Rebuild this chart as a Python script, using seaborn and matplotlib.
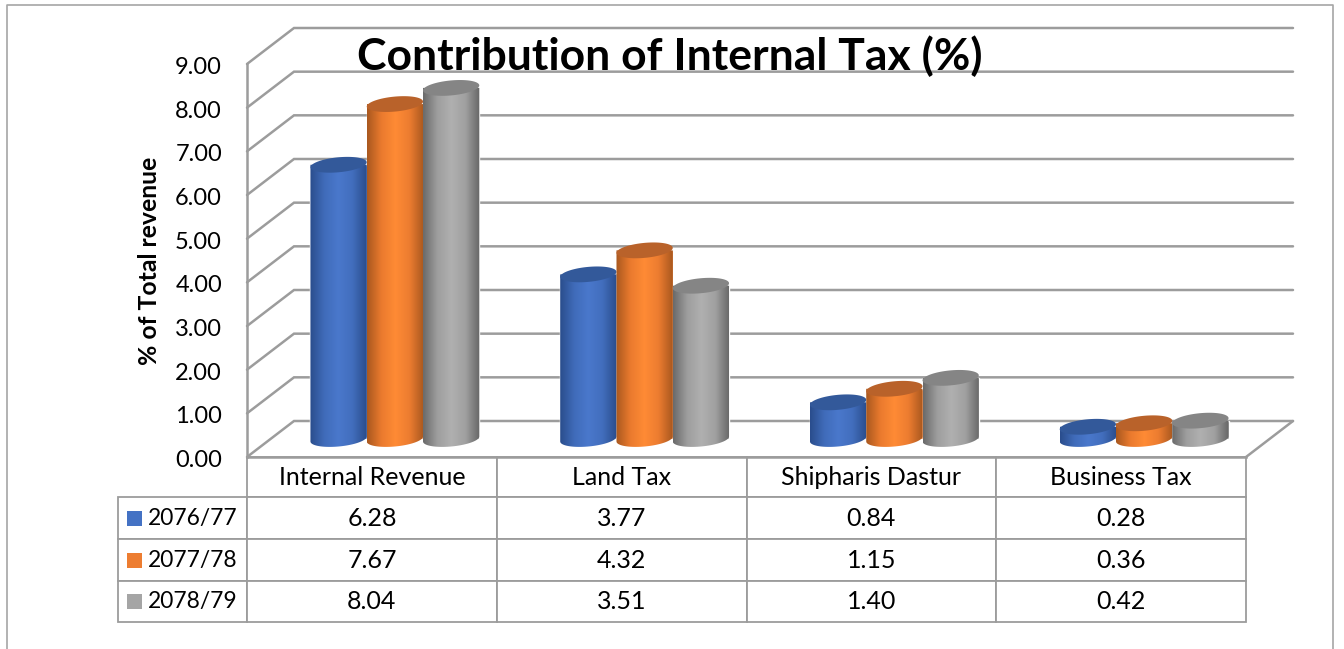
import numpy as np
import pandas as pd
import matplotlib
matplotlib.use("Agg")
import matplotlib.pyplot as plt
from matplotlib.colors import LinearSegmentedColormap
from matplotlib.lines import Line2D
from matplotlib.patches import Polygon, Rectangle
from matplotlib.transforms import ScaledTranslation
import seaborn as sns

categories = ["Internal Revenue", "Land Tax", "Shipharis Dastur", "Business Tax"]
years = ["2076/77", "2077/78", "2078/79"]
vals_7677 = [6.28, 3.77, 0.84, 0.28]
vals_7778 = [7.67, 4.32, 1.15, 0.36]
vals_7879 = [8.04, 3.51, 1.40, 0.42]
yticks = [0, 1, 2, 3, 4, 5, 6, 7, 8, 9]

key_colors = ["#4472c4", "#ed7d31", "#a5a5a5"]
top_colors = ["#33599a", "#b9622a", "#858585"]
side_colors = [["#2a4d8c", "#406cba", "#4a78cc", "#426ebd", "#2a4d8c"],
               ["#a9581f", "#ea7a2e", "#ff8b35", "#ec7c30", "#a9581f"],
               ["#6a6a6a", "#9e9e9e", "#b0b0b0", "#a0a0a0", "#666666"]]
GRID = "#9c9c9c"

W, H = 1344, 649
FONT = ["Lato", "DejaVu Sans"]


def px(x, y):
  return x / W, 1 - y / H


def axes_at(left, top, right, bottom):
  x0, y1 = px(left, top)
  x1, y0 = px(right, bottom)
  return fig.add_axes([x0, y0, x1 - x0, y1 - y0])


sns.set_style("white")
plt.rcParams['font.family'] = FONT
fig = plt.figure(figsize=(W / 100, H / 100), dpi=100)

# front plane of the 3d box
ax = axes_at(247, 64, 1246, 457)
ax.set_xlim(-0.5, 3.5)
ax.set_ylim(0, 9)
ax.patch.set_visible(False)
ax.set_xticks([])
ax.set_yticks(yticks)
ax.set_yticklabels(["%.2f" % v for v in yticks], fontsize=17)
ax.tick_params(axis='y', length=0, pad=18, labelcolor='black')
for lab in ax.get_yticklabels():
  lab.set_transform(lab.get_transform() + ScaledTranslation(0, -1.5 / 100, fig.dpi_scale_trans))
ax.set_ylabel("% of Total revenue", fontsize=17.8, fontweight='bold', color='black')
ax.yaxis.set_label_coords(-86 / 999, 0.499)
sns.despine(ax=ax, top=True, right=True)
for s in ['left', 'bottom']:
  ax.spines[s].set_color(GRID)
  ax.spines[s].set_linewidth(1.8)

ppx = 4 / 999
ppy = 9 / 393
dx, dy = 47 * ppx, 36 * ppy
for v in yticks:
  ax.plot([-0.5, -0.5 + dx, 3.5 + dx], [v, v + dy, v + dy], color=GRID, lw=1.8,
          clip_on=False, solid_joinstyle='miter', zorder=1)
ax.plot([3.5, 3.5 + dx], [0, dy], color=GRID, lw=1.8, clip_on=False, zorder=1)

# bars stand half way into the box, so they get their own shifted axes
bx = axes_at(247 + 23, 64 - 18, 1246 + 23, 457 - 18)
df = pd.DataFrame({"category": categories * 3,
                   "year": np.repeat(years, 4),
                   "value": vals_7677 + vals_7778 + vals_7879})
sns.barplot(data=df, x="category", y="value", hue="year", ax=bx, width=0.676, gap=0,
            palette=key_colors, legend=False, saturation=1)
bx.set_xlim(-0.5, 3.5)
bx.set_ylim(0, 9)
bx.axis('off')

b = 7.5 * ppy
tilt = 2.5 * ppy
t = np.linspace(0, 2 * np.pi, 80)
grad = np.linspace(0, 1, 128).reshape(1, -1)
for i, cont in enumerate(bx.containers):
  cmap = LinearSegmentedColormap.from_list("side%d" % i, side_colors[i])
  for rect in cont:
    x0, w, h = rect.get_x(), rect.get_width(), rect.get_height()
    a = w / 2
    cx = x0 + a
    # body: side walls plus the lower half of the base ellipse
    lower = np.linspace(np.pi, 2 * np.pi, 40)
    bx_pts = cx + a * np.cos(lower)
    by_pts = b * np.sin(lower) + tilt * np.cos(lower)
    body = np.vstack([[x0, h], np.column_stack([bx_pts, by_pts]), [x0 + w, h]])
    poly = Polygon(body, closed=True, transform=bx.transData, fc='none', ec='none')
    bx.add_patch(poly)
    im = bx.imshow(grad, extent=[x0, x0 + w, -2 * b, h + b], aspect='auto', cmap=cmap,
                   zorder=3 + i, interpolation='bilinear')
    im.set_clip_path(poly)
    im.set_clip_box(fig.bbox)
    top = np.column_stack([cx + a * np.cos(t), h + b * np.sin(t) + tilt * np.cos(t)])
    bx.add_patch(Polygon(top, closed=True, fc=top_colors[i], ec='none', clip_on=False,
                         zorder=3.5 + i))
bx.set_xlim(-0.5, 3.5)
bx.set_ylim(0, 9)

# data table under the plot, bbox only counts the body and header columns
cell_text = [["%.2f" % v for v in s] for s in (vals_7677, vals_7778, vals_7879)]
tbl = ax.table(cellText=cell_text, colLabels=categories,
               colWidths=[0.25] * 4, cellLoc='center',
               bbox=[0, -165 / 393, 1, 165 / 393])
tbl.auto_set_font_size(False)
tbl.set_fontsize(18)
# row labels added by hand, table would otherwise autosize that column
for r, year in enumerate(years):
  cell = tbl.add_cell(r + 1, -1, width=129 / 999, height=42 / 393, text=year, loc='left')
  cell.PAD = 30 / 129
  cell.set_fontsize(16.4)
row_h = [40, 42, 42, 41]
for (r, c), cell in tbl.get_celld().items():
  cell.set_edgecolor(GRID)
  cell.set_linewidth(1.3)
  cell.set_height(row_h[r] / 393)
  cell.set_text_props(family=FONT, color='black')

key_y = [518.5, 560, 601.5]
for col, yc in zip(key_colors, key_y):
  x0, y0 = px(127, yc + 7.5)
  fig.add_artist(Rectangle((x0, y0), 15 / W, 15 / H, fc=col, ec='none',
                           transform=fig.transFigure))

# outer chart frame, bottom edge is cut off in the source
xs = [px(7, 649)[0], px(7, 5)[0], px(1333, 5)[0], px(1333, 649)[0]]
ys = [0, px(7, 5)[1], px(7, 5)[1], 0]
fig.add_artist(Line2D(xs, ys, color="#a6a6a6", lw=1.2, transform=fig.transFigure))

tx, ty = px(669.5, 56.5)
fig.text(tx, ty, "Contribution of Internal Tax (%)", fontsize=32, fontweight='bold',
         ha='center', va='center', color='black', zorder=10)

fig.savefig("out.png", dpi=100)
